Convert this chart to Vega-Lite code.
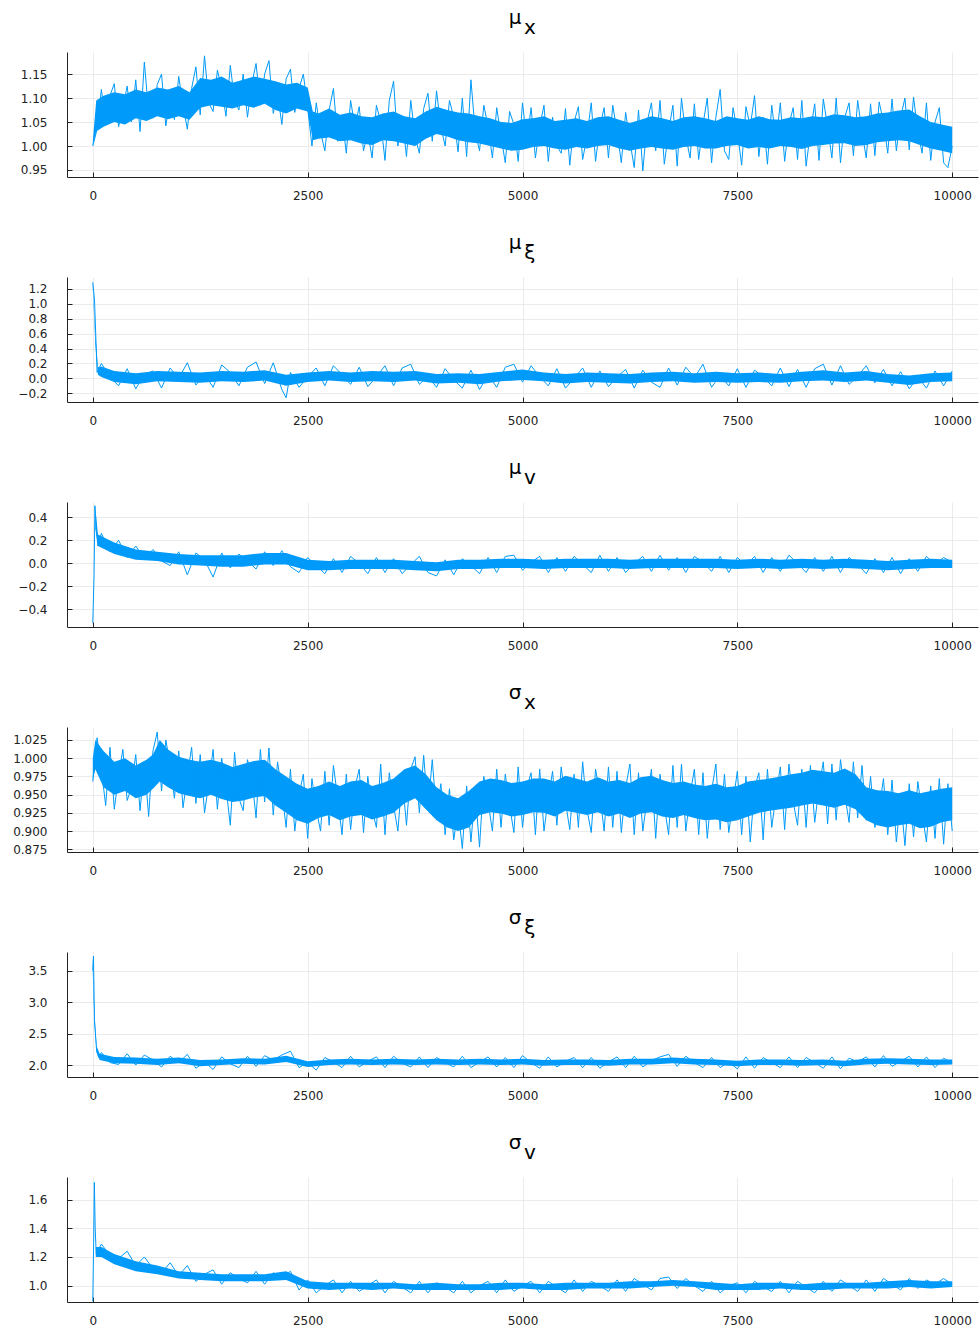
{
"$schema": "https://vega.github.io/schema/vega-lite/v6.json",
"padding": {"left": 12, "top": 8, "right": 2, "bottom": 5},
"spacing": 32,
"config": {
  "view": {"stroke": null},
  "font": "DejaVu Sans",
  "axis": {"grid": true, "gridColor": "#e6e6e6", "gridWidth": 0.8, "domainColor": "#222222", "domainWidth": 1, "tickColor": "#222222", "tickSize": -5, "tickWidth": 1, "labelFont": "DejaVu Sans", "labelFontSize": 12, "labelColor": "#222222", "title": null},
  "axisX": {"labelPadding": 18, "labelAngle": 0},
  "axisY": {"labelPadding": 25},
  "title": {"fontSize": 20, "font": "DejaVu Sans", "fontWeight": "normal", "color": "#000000", "subtitleFontSize": 20, "subtitleFont": "DejaVu Sans", "subtitleColor": "#000000", "subtitleFontWeight": "normal", "subtitlePadding": -10, "anchor": "middle", "frame": "group", "offset": 14}
},
"datasets": {
"a1": [{"t":0,"l":1.0,"h":1.01},{"t":40,"l":1.03,"h":1.095},{"t":125,"l":1.04,"h":1.105},{"t":250,"l":1.05,"h":1.112},{"t":375,"l":1.045,"h":1.108},{"t":500,"l":1.058,"h":1.118},{"t":625,"l":1.052,"h":1.112},{"t":750,"l":1.062,"h":1.122},{"t":875,"l":1.056,"h":1.118},{"t":1000,"l":1.062,"h":1.125},{"t":1125,"l":1.055,"h":1.112},{"t":1250,"l":1.08,"h":1.142},{"t":1375,"l":1.085,"h":1.138},{"t":1500,"l":1.082,"h":1.145},{"t":1625,"l":1.078,"h":1.132},{"t":1750,"l":1.085,"h":1.138},{"t":1875,"l":1.08,"h":1.145},{"t":2000,"l":1.088,"h":1.14},{"t":2125,"l":1.075,"h":1.135},{"t":2250,"l":1.068,"h":1.128},{"t":2375,"l":1.078,"h":1.132},{"t":2500,"l":1.072,"h":1.122},{"t":2560,"l":1.012,"h":1.072},{"t":2625,"l":1.015,"h":1.068},{"t":2750,"l":1.018,"h":1.078},{"t":2875,"l":1.01,"h":1.065},{"t":3000,"l":1.012,"h":1.07},{"t":3125,"l":1.005,"h":1.062},{"t":3250,"l":1.002,"h":1.06},{"t":3375,"l":1.012,"h":1.068},{"t":3500,"l":1.01,"h":1.072},{"t":3625,"l":1.005,"h":1.062},{"t":3750,"l":1.0,"h":1.058},{"t":3875,"l":1.015,"h":1.072},{"t":4000,"l":1.025,"h":1.082},{"t":4125,"l":1.02,"h":1.075},{"t":4250,"l":1.012,"h":1.07},{"t":4375,"l":1.008,"h":1.068},{"t":4500,"l":1.005,"h":1.062},{"t":4625,"l":1.0,"h":1.058},{"t":4750,"l":0.995,"h":1.05},{"t":4875,"l":0.99,"h":1.048},{"t":5000,"l":0.992,"h":1.056},{"t":5125,"l":0.998,"h":1.058},{"t":5250,"l":1.0,"h":1.062},{"t":5375,"l":0.995,"h":1.052},{"t":5500,"l":0.992,"h":1.055},{"t":5625,"l":0.998,"h":1.058},{"t":5750,"l":0.995,"h":1.052},{"t":5875,"l":1.0,"h":1.06},{"t":6000,"l":1.002,"h":1.062},{"t":6125,"l":0.995,"h":1.055},{"t":6250,"l":0.99,"h":1.048},{"t":6375,"l":0.995,"h":1.055},{"t":6500,"l":0.998,"h":1.062},{"t":6625,"l":0.995,"h":1.058},{"t":6750,"l":0.992,"h":1.052},{"t":6875,"l":0.998,"h":1.06},{"t":7000,"l":1.0,"h":1.062},{"t":7125,"l":0.995,"h":1.058},{"t":7250,"l":0.995,"h":1.052},{"t":7375,"l":1.0,"h":1.062},{"t":7500,"l":1.002,"h":1.058},{"t":7625,"l":0.995,"h":1.055},{"t":7750,"l":0.998,"h":1.062},{"t":7875,"l":0.995,"h":1.056},{"t":8000,"l":1.0,"h":1.055},{"t":8125,"l":0.998,"h":1.06},{"t":8250,"l":0.994,"h":1.058},{"t":8375,"l":1.0,"h":1.062},{"t":8500,"l":1.002,"h":1.06},{"t":8625,"l":1.005,"h":1.066},{"t":8750,"l":1.006,"h":1.064},{"t":8875,"l":1.0,"h":1.06},{"t":9000,"l":1.002,"h":1.062},{"t":9125,"l":1.008,"h":1.068},{"t":9250,"l":1.01,"h":1.07},{"t":9375,"l":1.012,"h":1.074},{"t":9500,"l":1.01,"h":1.076},{"t":9625,"l":1.002,"h":1.062},{"t":9750,"l":0.995,"h":1.05},{"t":9875,"l":0.99,"h":1.045},{"t":10000,"l":0.985,"h":1.04}],
"l1": [{"t":0,"l":1.0},{"t":50,"l":1.035},{"t":100,"l":1.118},{"t":150,"l":1.045},{"t":200,"l":1.105},{"t":250,"l":1.13},{"t":300,"l":1.04},{"t":350,"l":1.08},{"t":400,"l":1.125},{"t":450,"l":1.05},{"t":500,"l":1.138},{"t":550,"l":1.03},{"t":600,"l":1.175},{"t":650,"l":1.07},{"t":700,"l":1.058},{"t":750,"l":1.128},{"t":800,"l":1.15},{"t":850,"l":1.042},{"t":900,"l":1.1},{"t":950,"l":1.055},{"t":1000,"l":1.145},{"t":1050,"l":1.085},{"t":1100,"l":1.035},{"t":1150,"l":1.12},{"t":1200,"l":1.165},{"t":1250,"l":1.065},{"t":1300,"l":1.188},{"t":1350,"l":1.09},{"t":1400,"l":1.072},{"t":1450,"l":1.158},{"t":1500,"l":1.12},{"t":1550,"l":1.062},{"t":1600,"l":1.168},{"t":1650,"l":1.095},{"t":1700,"l":1.075},{"t":1750,"l":1.15},{"t":1800,"l":1.06},{"t":1850,"l":1.13},{"t":1900,"l":1.172},{"t":1950,"l":1.085},{"t":2000,"l":1.15},{"t":2050,"l":1.178},{"t":2100,"l":1.068},{"t":2150,"l":1.11},{"t":2200,"l":1.045},{"t":2250,"l":1.14},{"t":2300,"l":1.16},{"t":2350,"l":1.07},{"t":2400,"l":1.12},{"t":2450,"l":1.15},{"t":2500,"l":1.08},{"t":2550,"l":1.0},{"t":2600,"l":1.09},{"t":2650,"l":1.03},{"t":2700,"l":0.99},{"t":2750,"l":1.075},{"t":2800,"l":1.12},{"t":2850,"l":1.01},{"t":2900,"l":1.06},{"t":2950,"l":0.985},{"t":3000,"l":1.095},{"t":3050,"l":1.04},{"t":3100,"l":1.082},{"t":3150,"l":0.99},{"t":3200,"l":1.03},{"t":3250,"l":0.975},{"t":3300,"l":1.085},{"t":3350,"l":1.05},{"t":3400,"l":0.97},{"t":3450,"l":1.095},{"t":3500,"l":1.135},{"t":3550,"l":1.0},{"t":3600,"l":1.06},{"t":3650,"l":0.978},{"t":3700,"l":1.095},{"t":3750,"l":1.02},{"t":3800,"l":0.985},{"t":3850,"l":1.078},{"t":3900,"l":1.11},{"t":3950,"l":1.01},{"t":4000,"l":1.115},{"t":4050,"l":1.04},{"t":4100,"l":1.0},{"t":4150,"l":1.095},{"t":4200,"l":1.06},{"t":4250,"l":0.988},{"t":4300,"l":1.1},{"t":4350,"l":0.978},{"t":4400,"l":1.138},{"t":4450,"l":1.03},{"t":4500,"l":0.99},{"t":4550,"l":1.085},{"t":4600,"l":1.04},{"t":4650,"l":0.975},{"t":4700,"l":1.08},{"t":4750,"l":1.02},{"t":4800,"l":0.965},{"t":4850,"l":1.072},{"t":4900,"l":1.045},{"t":4950,"l":0.968},{"t":5000,"l":1.09},{"t":5050,"l":1.01},{"t":5100,"l":1.08},{"t":5150,"l":0.975},{"t":5200,"l":1.04},{"t":5250,"l":1.085},{"t":5300,"l":0.968},{"t":5350,"l":1.06},{"t":5400,"l":1.0},{"t":5450,"l":0.985},{"t":5500,"l":1.078},{"t":5550,"l":0.96},{"t":5600,"l":1.05},{"t":5650,"l":1.082},{"t":5700,"l":0.972},{"t":5750,"l":1.02},{"t":5800,"l":1.09},{"t":5850,"l":0.968},{"t":5900,"l":1.04},{"t":5950,"l":1.08},{"t":6000,"l":0.975},{"t":6050,"l":1.085},{"t":6100,"l":1.03},{"t":6150,"l":0.965},{"t":6200,"l":1.07},{"t":6250,"l":1.01},{"t":6300,"l":0.955},{"t":6350,"l":1.075},{"t":6400,"l":0.948},{"t":6450,"l":1.05},{"t":6500,"l":1.09},{"t":6550,"l":0.99},{"t":6600,"l":1.095},{"t":6650,"l":0.962},{"t":6700,"l":1.03},{"t":6750,"l":1.085},{"t":6800,"l":0.958},{"t":6850,"l":1.1},{"t":6900,"l":1.02},{"t":6950,"l":0.975},{"t":7000,"l":1.088},{"t":7050,"l":0.972},{"t":7100,"l":1.045},{"t":7150,"l":1.1},{"t":7200,"l":0.965},{"t":7250,"l":1.06},{"t":7300,"l":1.118},{"t":7350,"l":0.99},{"t":7400,"l":0.972},{"t":7450,"l":1.08},{"t":7500,"l":1.03},{"t":7550,"l":0.96},{"t":7600,"l":1.082},{"t":7650,"l":1.04},{"t":7700,"l":1.105},{"t":7750,"l":0.978},{"t":7800,"l":1.06},{"t":7850,"l":0.962},{"t":7900,"l":1.085},{"t":7950,"l":1.01},{"t":8000,"l":1.09},{"t":8050,"l":0.968},{"t":8100,"l":1.045},{"t":8150,"l":1.08},{"t":8200,"l":0.972},{"t":8250,"l":1.095},{"t":8300,"l":0.958},{"t":8350,"l":1.03},{"t":8400,"l":1.088},{"t":8450,"l":0.97},{"t":8500,"l":1.098},{"t":8550,"l":1.04},{"t":8600,"l":0.975},{"t":8650,"l":1.1},{"t":8700,"l":0.965},{"t":8750,"l":1.06},{"t":8800,"l":1.09},{"t":8850,"l":0.98},{"t":8900,"l":1.095},{"t":8950,"l":1.03},{"t":9000,"l":0.975},{"t":9050,"l":1.088},{"t":9100,"l":0.98},{"t":9150,"l":1.092},{"t":9200,"l":1.05},{"t":9250,"l":0.985},{"t":9300,"l":1.098},{"t":9350,"l":0.99},{"t":9400,"l":1.06},{"t":9450,"l":1.1},{"t":9500,"l":0.992},{"t":9550,"l":1.102},{"t":9600,"l":1.03},{"t":9650,"l":0.985},{"t":9700,"l":1.09},{"t":9750,"l":0.97},{"t":9800,"l":1.05},{"t":9850,"l":1.08},{"t":9900,"l":0.965},{"t":9950,"l":0.955},{"t":10000,"l":1.0}],
"a2": [{"t":0,"l":1.22,"h":1.3},{"t":30,"l":0.45,"h":0.6},{"t":60,"l":0.05,"h":0.15},{"t":100,"l":0.02,"h":0.16},{"t":250,"l":-0.05,"h":0.1},{"t":500,"l":-0.08,"h":0.07},{"t":750,"l":-0.04,"h":0.1},{"t":1000,"l":-0.05,"h":0.09},{"t":1250,"l":-0.06,"h":0.08},{"t":1500,"l":-0.04,"h":0.1},{"t":1750,"l":-0.05,"h":0.09},{"t":2000,"l":-0.03,"h":0.11},{"t":2250,"l":-0.1,"h":0.05},{"t":2500,"l":-0.05,"h":0.08},{"t":2750,"l":-0.03,"h":0.1},{"t":3000,"l":-0.05,"h":0.08},{"t":3250,"l":-0.04,"h":0.1},{"t":3500,"l":-0.05,"h":0.09},{"t":3750,"l":-0.03,"h":0.1},{"t":4000,"l":-0.07,"h":0.06},{"t":4250,"l":-0.06,"h":0.07},{"t":4500,"l":-0.08,"h":0.06},{"t":4750,"l":-0.04,"h":0.09},{"t":5000,"l":-0.02,"h":0.12},{"t":5250,"l":-0.04,"h":0.08},{"t":5500,"l":-0.07,"h":0.06},{"t":5750,"l":-0.05,"h":0.08},{"t":6000,"l":-0.06,"h":0.07},{"t":6250,"l":-0.07,"h":0.06},{"t":6500,"l":-0.05,"h":0.08},{"t":6750,"l":-0.04,"h":0.09},{"t":7000,"l":-0.06,"h":0.07},{"t":7250,"l":-0.05,"h":0.09},{"t":7500,"l":-0.06,"h":0.07},{"t":7750,"l":-0.05,"h":0.08},{"t":8000,"l":-0.06,"h":0.06},{"t":8250,"l":-0.04,"h":0.09},{"t":8500,"l":-0.03,"h":0.11},{"t":8750,"l":-0.05,"h":0.08},{"t":9000,"l":-0.03,"h":0.1},{"t":9250,"l":-0.06,"h":0.06},{"t":9500,"l":-0.09,"h":0.04},{"t":9750,"l":-0.05,"h":0.07},{"t":10000,"l":-0.04,"h":0.08}],
"l2": [{"t":0,"l":1.29},{"t":20,"l":1.05},{"t":50,"l":0.08},{"t":100,"l":0.2},{"t":200,"l":0.02},{"t":300,"l":-0.1},{"t":400,"l":0.13},{"t":500,"l":-0.14},{"t":600,"l":0.05},{"t":700,"l":0.1},{"t":800,"l":-0.13},{"t":900,"l":0.14},{"t":1000,"l":0.0},{"t":1100,"l":0.21},{"t":1200,"l":-0.09},{"t":1300,"l":0.06},{"t":1400,"l":-0.12},{"t":1500,"l":0.18},{"t":1600,"l":0.08},{"t":1700,"l":-0.1},{"t":1800,"l":0.15},{"t":1900,"l":0.22},{"t":2000,"l":-0.07},{"t":2100,"l":0.21},{"t":2200,"l":-0.15},{"t":2250,"l":-0.26},{"t":2300,"l":0.08},{"t":2400,"l":-0.12},{"t":2500,"l":0.02},{"t":2600,"l":0.14},{"t":2700,"l":-0.1},{"t":2800,"l":0.17},{"t":2900,"l":0.05},{"t":3000,"l":-0.08},{"t":3100,"l":0.15},{"t":3200,"l":-0.11},{"t":3300,"l":0.02},{"t":3400,"l":0.17},{"t":3500,"l":-0.1},{"t":3600,"l":0.14},{"t":3700,"l":0.19},{"t":3800,"l":-0.08},{"t":3900,"l":0.03},{"t":4000,"l":-0.12},{"t":4100,"l":0.13},{"t":4200,"l":-0.02},{"t":4300,"l":-0.13},{"t":4400,"l":0.11},{"t":4500,"l":-0.15},{"t":4600,"l":0.05},{"t":4700,"l":-0.12},{"t":4800,"l":0.15},{"t":4900,"l":0.19},{"t":5000,"l":-0.05},{"t":5100,"l":0.17},{"t":5200,"l":0.02},{"t":5300,"l":-0.1},{"t":5400,"l":0.13},{"t":5500,"l":-0.13},{"t":5600,"l":0.0},{"t":5700,"l":0.14},{"t":5800,"l":-0.12},{"t":5900,"l":0.1},{"t":6000,"l":-0.11},{"t":6100,"l":0.02},{"t":6200,"l":0.12},{"t":6300,"l":-0.13},{"t":6400,"l":0.11},{"t":6500,"l":-0.05},{"t":6600,"l":-0.12},{"t":6700,"l":0.14},{"t":6800,"l":-0.09},{"t":6900,"l":0.15},{"t":7000,"l":0.01},{"t":7100,"l":0.19},{"t":7200,"l":-0.12},{"t":7300,"l":0.04},{"t":7400,"l":-0.1},{"t":7500,"l":0.13},{"t":7600,"l":-0.12},{"t":7700,"l":0.11},{"t":7800,"l":0.02},{"t":7900,"l":-0.1},{"t":8000,"l":0.14},{"t":8100,"l":-0.11},{"t":8200,"l":0.12},{"t":8300,"l":-0.12},{"t":8400,"l":0.13},{"t":8500,"l":0.19},{"t":8600,"l":-0.09},{"t":8700,"l":0.17},{"t":8800,"l":-0.08},{"t":8900,"l":0.03},{"t":9000,"l":0.17},{"t":9100,"l":-0.06},{"t":9200,"l":0.12},{"t":9300,"l":-0.1},{"t":9400,"l":0.09},{"t":9500,"l":-0.14},{"t":9600,"l":0.02},{"t":9700,"l":-0.13},{"t":9800,"l":0.1},{"t":9900,"l":-0.1},{"t":10000,"l":0.1}],
"a3": [{"t":30,"l":0.3,"h":0.48},{"t":60,"l":0.15,"h":0.25},{"t":250,"l":0.08,"h":0.18},{"t":500,"l":0.03,"h":0.12},{"t":750,"l":0.02,"h":0.1},{"t":1000,"l":-0.01,"h":0.08},{"t":1250,"l":-0.02,"h":0.07},{"t":1500,"l":-0.03,"h":0.07},{"t":1750,"l":-0.03,"h":0.07},{"t":2000,"l":-0.01,"h":0.09},{"t":2250,"l":-0.01,"h":0.09},{"t":2500,"l":-0.06,"h":0.03},{"t":2750,"l":-0.06,"h":0.02},{"t":3000,"l":-0.05,"h":0.03},{"t":3250,"l":-0.05,"h":0.03},{"t":3500,"l":-0.05,"h":0.03},{"t":3750,"l":-0.06,"h":0.02},{"t":4000,"l":-0.07,"h":0.01},{"t":4250,"l":-0.05,"h":0.03},{"t":4500,"l":-0.05,"h":0.03},{"t":4750,"l":-0.04,"h":0.04},{"t":5000,"l":-0.04,"h":0.04},{"t":5250,"l":-0.05,"h":0.03},{"t":5500,"l":-0.04,"h":0.04},{"t":5750,"l":-0.04,"h":0.04},{"t":6000,"l":-0.04,"h":0.04},{"t":6250,"l":-0.05,"h":0.03},{"t":6500,"l":-0.04,"h":0.04},{"t":6750,"l":-0.04,"h":0.04},{"t":7000,"l":-0.04,"h":0.04},{"t":7250,"l":-0.04,"h":0.04},{"t":7500,"l":-0.05,"h":0.03},{"t":7750,"l":-0.04,"h":0.04},{"t":8000,"l":-0.05,"h":0.03},{"t":8250,"l":-0.04,"h":0.04},{"t":8500,"l":-0.05,"h":0.03},{"t":8750,"l":-0.04,"h":0.04},{"t":9000,"l":-0.05,"h":0.03},{"t":9250,"l":-0.06,"h":0.02},{"t":9500,"l":-0.05,"h":0.03},{"t":9750,"l":-0.04,"h":0.04},{"t":10000,"l":-0.04,"h":0.03}],
"l3": [{"t":0,"l":-0.52},{"t":15,"l":-0.1},{"t":25,"l":0.5},{"t":40,"l":0.3},{"t":60,"l":0.15},{"t":100,"l":0.26},{"t":200,"l":0.1},{"t":300,"l":0.2},{"t":400,"l":0.05},{"t":500,"l":0.15},{"t":600,"l":0.04},{"t":700,"l":0.12},{"t":800,"l":0.02},{"t":900,"l":-0.02},{"t":1000,"l":0.1},{"t":1100,"l":-0.1},{"t":1200,"l":0.09},{"t":1300,"l":0.03},{"t":1400,"l":-0.12},{"t":1500,"l":0.09},{"t":1600,"l":-0.04},{"t":1700,"l":0.08},{"t":1800,"l":0.02},{"t":1900,"l":-0.05},{"t":2000,"l":0.1},{"t":2100,"l":-0.02},{"t":2200,"l":0.11},{"t":2300,"l":-0.03},{"t":2400,"l":-0.08},{"t":2500,"l":0.05},{"t":2600,"l":-0.02},{"t":2700,"l":-0.09},{"t":2800,"l":0.04},{"t":2900,"l":-0.08},{"t":3000,"l":0.06},{"t":3100,"l":0.0},{"t":3200,"l":-0.09},{"t":3300,"l":0.05},{"t":3400,"l":-0.08},{"t":3500,"l":0.04},{"t":3600,"l":-0.09},{"t":3700,"l":-0.01},{"t":3800,"l":0.06},{"t":3900,"l":-0.08},{"t":4000,"l":-0.11},{"t":4100,"l":0.03},{"t":4200,"l":-0.1},{"t":4300,"l":0.04},{"t":4400,"l":-0.02},{"t":4500,"l":-0.09},{"t":4600,"l":0.05},{"t":4700,"l":-0.08},{"t":4800,"l":0.06},{"t":4900,"l":0.07},{"t":5000,"l":-0.06},{"t":5100,"l":0.01},{"t":5200,"l":0.06},{"t":5300,"l":-0.08},{"t":5400,"l":0.05},{"t":5500,"l":-0.07},{"t":5600,"l":0.06},{"t":5700,"l":-0.01},{"t":5800,"l":-0.08},{"t":5900,"l":0.07},{"t":6000,"l":-0.07},{"t":6100,"l":0.05},{"t":6200,"l":-0.08},{"t":6300,"l":0.0},{"t":6400,"l":0.06},{"t":6500,"l":-0.07},{"t":6600,"l":0.07},{"t":6700,"l":-0.06},{"t":6800,"l":0.05},{"t":6900,"l":-0.08},{"t":7000,"l":0.06},{"t":7100,"l":0.01},{"t":7200,"l":-0.07},{"t":7300,"l":0.06},{"t":7400,"l":-0.08},{"t":7500,"l":0.05},{"t":7600,"l":-0.02},{"t":7700,"l":0.06},{"t":7800,"l":-0.08},{"t":7900,"l":0.05},{"t":8000,"l":-0.07},{"t":8100,"l":0.07},{"t":8200,"l":0.0},{"t":8300,"l":-0.08},{"t":8400,"l":0.05},{"t":8500,"l":-0.07},{"t":8600,"l":0.06},{"t":8700,"l":-0.08},{"t":8800,"l":0.05},{"t":8900,"l":-0.01},{"t":9000,"l":-0.09},{"t":9100,"l":0.04},{"t":9200,"l":-0.08},{"t":9300,"l":0.05},{"t":9400,"l":-0.09},{"t":9500,"l":0.04},{"t":9600,"l":-0.07},{"t":9700,"l":0.06},{"t":9800,"l":-0.01},{"t":9900,"l":0.05},{"t":10000,"l":0.01}],
"a4": [{"t":0,"l":0.97,"h":1.0},{"t":30,"l":0.985,"h":1.025},{"t":125,"l":0.96,"h":1.01},{"t":250,"l":0.95,"h":0.995},{"t":375,"l":0.955,"h":1.0},{"t":500,"l":0.945,"h":0.99},{"t":625,"l":0.95,"h":0.998},{"t":700,"l":0.958,"h":1.005},{"t":780,"l":0.968,"h":1.025},{"t":875,"l":0.96,"h":1.012},{"t":1000,"l":0.952,"h":1.002},{"t":1125,"l":0.948,"h":0.998},{"t":1250,"l":0.945,"h":0.995},{"t":1375,"l":0.95,"h":0.998},{"t":1500,"l":0.944,"h":0.994},{"t":1625,"l":0.94,"h":0.988},{"t":1750,"l":0.942,"h":0.992},{"t":1875,"l":0.946,"h":0.996},{"t":2000,"l":0.948,"h":0.998},{"t":2125,"l":0.935,"h":0.985},{"t":2250,"l":0.925,"h":0.975},{"t":2375,"l":0.915,"h":0.965},{"t":2500,"l":0.91,"h":0.958},{"t":2625,"l":0.918,"h":0.962},{"t":2750,"l":0.922,"h":0.968},{"t":2875,"l":0.915,"h":0.962},{"t":3000,"l":0.92,"h":0.968},{"t":3125,"l":0.922,"h":0.97},{"t":3250,"l":0.916,"h":0.962},{"t":3375,"l":0.92,"h":0.966},{"t":3500,"l":0.925,"h":0.972},{"t":3625,"l":0.938,"h":0.985},{"t":3750,"l":0.945,"h":0.99},{"t":3875,"l":0.93,"h":0.978},{"t":4000,"l":0.915,"h":0.96},{"t":4125,"l":0.905,"h":0.95},{"t":4250,"l":0.9,"h":0.945},{"t":4375,"l":0.905,"h":0.955},{"t":4500,"l":0.922,"h":0.968},{"t":4625,"l":0.926,"h":0.972},{"t":4750,"l":0.924,"h":0.97},{"t":4875,"l":0.92,"h":0.966},{"t":5000,"l":0.922,"h":0.968},{"t":5125,"l":0.926,"h":0.972},{"t":5250,"l":0.925,"h":0.972},{"t":5375,"l":0.92,"h":0.968},{"t":5500,"l":0.928,"h":0.976},{"t":5625,"l":0.925,"h":0.972},{"t":5750,"l":0.922,"h":0.968},{"t":5875,"l":0.926,"h":0.974},{"t":6000,"l":0.92,"h":0.968},{"t":6125,"l":0.924,"h":0.97},{"t":6250,"l":0.918,"h":0.966},{"t":6375,"l":0.924,"h":0.974},{"t":6500,"l":0.926,"h":0.976},{"t":6625,"l":0.92,"h":0.97},{"t":6750,"l":0.918,"h":0.966},{"t":6875,"l":0.922,"h":0.968},{"t":7000,"l":0.918,"h":0.964},{"t":7125,"l":0.915,"h":0.962},{"t":7250,"l":0.916,"h":0.965},{"t":7375,"l":0.912,"h":0.96},{"t":7500,"l":0.915,"h":0.962},{"t":7625,"l":0.92,"h":0.968},{"t":7750,"l":0.925,"h":0.97},{"t":7875,"l":0.928,"h":0.972},{"t":8000,"l":0.93,"h":0.975},{"t":8125,"l":0.932,"h":0.978},{"t":8250,"l":0.935,"h":0.98},{"t":8375,"l":0.938,"h":0.984},{"t":8500,"l":0.935,"h":0.982},{"t":8625,"l":0.932,"h":0.98},{"t":8750,"l":0.936,"h":0.986},{"t":8875,"l":0.93,"h":0.978},{"t":9000,"l":0.915,"h":0.96},{"t":9125,"l":0.908,"h":0.956},{"t":9250,"l":0.905,"h":0.955},{"t":9375,"l":0.908,"h":0.952},{"t":9500,"l":0.91,"h":0.956},{"t":9625,"l":0.904,"h":0.952},{"t":9750,"l":0.906,"h":0.955},{"t":9875,"l":0.912,"h":0.958},{"t":10000,"l":0.915,"h":0.96}],
"l4": [{"t":0,"l":0.968},{"t":50,"l":1.028},{"t":100,"l":0.985},{"t":150,"l":0.935},{"t":200,"l":1.015},{"t":250,"l":0.93},{"t":300,"l":0.975},{"t":350,"l":1.012},{"t":400,"l":0.942},{"t":450,"l":0.96},{"t":500,"l":1.005},{"t":550,"l":0.928},{"t":600,"l":0.995},{"t":650,"l":0.92},{"t":700,"l":1.01},{"t":750,"l":1.036},{"t":800,"l":0.955},{"t":850,"l":1.025},{"t":900,"l":0.99},{"t":950,"l":0.945},{"t":1000,"l":1.01},{"t":1050,"l":0.932},{"t":1100,"l":0.975},{"t":1150,"l":1.015},{"t":1200,"l":0.938},{"t":1250,"l":1.005},{"t":1300,"l":0.925},{"t":1350,"l":0.965},{"t":1400,"l":1.012},{"t":1450,"l":0.93},{"t":1500,"l":1.0},{"t":1550,"l":0.96},{"t":1600,"l":0.908},{"t":1650,"l":1.008},{"t":1700,"l":0.945},{"t":1750,"l":0.928},{"t":1800,"l":0.998},{"t":1850,"l":0.975},{"t":1900,"l":0.918},{"t":1950,"l":1.012},{"t":2000,"l":0.94},{"t":2050,"l":1.014},{"t":2100,"l":0.922},{"t":2150,"l":0.995},{"t":2200,"l":0.955},{"t":2250,"l":0.905},{"t":2300,"l":0.985},{"t":2350,"l":0.9},{"t":2400,"l":0.95},{"t":2450,"l":0.978},{"t":2500,"l":0.89},{"t":2550,"l":0.972},{"t":2600,"l":0.93},{"t":2650,"l":0.9},{"t":2700,"l":0.982},{"t":2750,"l":0.908},{"t":2800,"l":0.99},{"t":2850,"l":0.945},{"t":2900,"l":0.895},{"t":2950,"l":0.978},{"t":3000,"l":0.902},{"t":3050,"l":0.96},{"t":3100,"l":0.985},{"t":3150,"l":0.898},{"t":3200,"l":0.975},{"t":3250,"l":0.93},{"t":3300,"l":0.905},{"t":3350,"l":0.992},{"t":3400,"l":0.895},{"t":3450,"l":0.98},{"t":3500,"l":0.935},{"t":3550,"l":0.9},{"t":3600,"l":0.975},{"t":3650,"l":0.908},{"t":3700,"l":0.985},{"t":3750,"l":1.002},{"t":3800,"l":0.925},{"t":3850,"l":1.004},{"t":3900,"l":0.93},{"t":3950,"l":0.998},{"t":4000,"l":0.922},{"t":4050,"l":0.965},{"t":4100,"l":0.895},{"t":4150,"l":0.958},{"t":4200,"l":0.888},{"t":4250,"l":0.93},{"t":4300,"l":0.876},{"t":4350,"l":0.962},{"t":4400,"l":0.885},{"t":4450,"l":0.955},{"t":4500,"l":0.878},{"t":4550,"l":0.975},{"t":4600,"l":0.94},{"t":4650,"l":0.9},{"t":4700,"l":0.985},{"t":4750,"l":0.905},{"t":4800,"l":0.978},{"t":4850,"l":0.935},{"t":4900,"l":0.898},{"t":4950,"l":0.988},{"t":5000,"l":0.905},{"t":5050,"l":0.96},{"t":5100,"l":0.98},{"t":5150,"l":0.895},{"t":5200,"l":0.985},{"t":5250,"l":0.9},{"t":5300,"l":0.945},{"t":5350,"l":0.982},{"t":5400,"l":0.908},{"t":5450,"l":0.988},{"t":5500,"l":0.94},{"t":5550,"l":0.902},{"t":5600,"l":0.978},{"t":5650,"l":0.905},{"t":5700,"l":0.995},{"t":5750,"l":0.93},{"t":5800,"l":0.898},{"t":5850,"l":0.985},{"t":5900,"l":0.95},{"t":5950,"l":0.9},{"t":6000,"l":0.988},{"t":6050,"l":0.905},{"t":6100,"l":0.982},{"t":6150,"l":0.898},{"t":6200,"l":0.96},{"t":6250,"l":0.992},{"t":6300,"l":0.895},{"t":6350,"l":0.98},{"t":6400,"l":0.9},{"t":6450,"l":0.945},{"t":6500,"l":0.985},{"t":6550,"l":0.89},{"t":6600,"l":0.978},{"t":6650,"l":0.935},{"t":6700,"l":0.895},{"t":6750,"l":0.99},{"t":6800,"l":0.905},{"t":6850,"l":0.992},{"t":6900,"l":0.9},{"t":6950,"l":0.95},{"t":7000,"l":0.985},{"t":7050,"l":0.895},{"t":7100,"l":0.98},{"t":7150,"l":0.89},{"t":7200,"l":0.955},{"t":7250,"l":0.992},{"t":7300,"l":0.902},{"t":7350,"l":0.978},{"t":7400,"l":0.898},{"t":7450,"l":0.94},{"t":7500,"l":0.982},{"t":7550,"l":0.895},{"t":7600,"l":0.975},{"t":7650,"l":0.885},{"t":7700,"l":0.96},{"t":7750,"l":0.98},{"t":7800,"l":0.888},{"t":7850,"l":0.985},{"t":7900,"l":0.905},{"t":7950,"l":0.95},{"t":8000,"l":0.988},{"t":8050,"l":0.902},{"t":8100,"l":0.992},{"t":8150,"l":0.94},{"t":8200,"l":0.908},{"t":8250,"l":0.985},{"t":8300,"l":0.905},{"t":8350,"l":0.99},{"t":8400,"l":0.912},{"t":8450,"l":0.96},{"t":8500,"l":0.995},{"t":8550,"l":0.91},{"t":8600,"l":0.992},{"t":8650,"l":0.915},{"t":8700,"l":0.998},{"t":8750,"l":0.95},{"t":8800,"l":0.912},{"t":8850,"l":0.995},{"t":8900,"l":0.918},{"t":8950,"l":0.99},{"t":9000,"l":0.915},{"t":9050,"l":0.975},{"t":9100,"l":0.905},{"t":9150,"l":0.93},{"t":9200,"l":0.972},{"t":9250,"l":0.895},{"t":9300,"l":0.97},{"t":9350,"l":0.885},{"t":9400,"l":0.945},{"t":9450,"l":0.88},{"t":9500,"l":0.965},{"t":9550,"l":0.892},{"t":9600,"l":0.968},{"t":9650,"l":0.925},{"t":9700,"l":0.885},{"t":9750,"l":0.962},{"t":9800,"l":0.89},{"t":9850,"l":0.972},{"t":9900,"l":0.882},{"t":9950,"l":0.965},{"t":10000,"l":0.9}],
"a5": [{"t":0,"l":3.45,"h":3.72},{"t":20,"l":2.65,"h":2.8},{"t":45,"l":2.2,"h":2.3},{"t":80,"l":2.08,"h":2.18},{"t":250,"l":2.03,"h":2.13},{"t":500,"l":2.02,"h":2.12},{"t":750,"l":2.0,"h":2.1},{"t":1000,"l":2.03,"h":2.12},{"t":1250,"l":1.98,"h":2.08},{"t":1500,"l":2.0,"h":2.09},{"t":1750,"l":2.02,"h":2.11},{"t":2000,"l":2.01,"h":2.1},{"t":2250,"l":2.05,"h":2.15},{"t":2500,"l":1.97,"h":2.06},{"t":2750,"l":2.0,"h":2.09},{"t":3000,"l":2.01,"h":2.1},{"t":3250,"l":2.0,"h":2.09},{"t":3500,"l":2.01,"h":2.1},{"t":3750,"l":2.0,"h":2.09},{"t":4000,"l":2.01,"h":2.1},{"t":4250,"l":2.0,"h":2.09},{"t":4500,"l":2.01,"h":2.1},{"t":4750,"l":2.0,"h":2.09},{"t":5000,"l":2.01,"h":2.1},{"t":5250,"l":1.99,"h":2.08},{"t":5500,"l":2.0,"h":2.09},{"t":5750,"l":2.0,"h":2.09},{"t":6000,"l":1.99,"h":2.08},{"t":6250,"l":2.01,"h":2.1},{"t":6500,"l":2.01,"h":2.1},{"t":6750,"l":2.03,"h":2.12},{"t":7000,"l":2.01,"h":2.1},{"t":7250,"l":2.0,"h":2.09},{"t":7500,"l":1.98,"h":2.07},{"t":7750,"l":2.0,"h":2.09},{"t":8000,"l":2.0,"h":2.09},{"t":8250,"l":1.99,"h":2.08},{"t":8500,"l":2.0,"h":2.09},{"t":8750,"l":1.98,"h":2.07},{"t":9000,"l":2.01,"h":2.1},{"t":9250,"l":2.02,"h":2.11},{"t":9500,"l":2.01,"h":2.1},{"t":9750,"l":2.0,"h":2.09},{"t":10000,"l":2.01,"h":2.09}],
"l5": [{"t":0,"l":3.5},{"t":8,"l":3.73},{"t":20,"l":2.7},{"t":45,"l":2.22},{"t":70,"l":2.12},{"t":100,"l":2.2},{"t":200,"l":2.04},{"t":300,"l":2.01},{"t":400,"l":2.18},{"t":500,"l":2.0},{"t":600,"l":2.16},{"t":700,"l":2.08},{"t":800,"l":1.97},{"t":900,"l":2.14},{"t":1000,"l":2.04},{"t":1100,"l":2.17},{"t":1200,"l":1.95},{"t":1300,"l":2.05},{"t":1400,"l":1.93},{"t":1500,"l":2.13},{"t":1600,"l":2.02},{"t":1700,"l":1.96},{"t":1800,"l":2.14},{"t":1900,"l":1.98},{"t":2000,"l":2.15},{"t":2100,"l":2.08},{"t":2200,"l":2.16},{"t":2300,"l":2.22},{"t":2400,"l":1.96},{"t":2500,"l":2.04},{"t":2600,"l":1.92},{"t":2700,"l":2.12},{"t":2800,"l":2.05},{"t":2900,"l":1.96},{"t":3000,"l":2.14},{"t":3100,"l":1.97},{"t":3200,"l":2.06},{"t":3300,"l":2.13},{"t":3400,"l":1.96},{"t":3500,"l":2.14},{"t":3600,"l":2.03},{"t":3700,"l":1.97},{"t":3800,"l":2.13},{"t":3900,"l":1.96},{"t":4000,"l":2.12},{"t":4100,"l":2.04},{"t":4200,"l":1.97},{"t":4300,"l":2.14},{"t":4400,"l":1.96},{"t":4500,"l":2.05},{"t":4600,"l":2.13},{"t":4700,"l":1.97},{"t":4800,"l":2.12},{"t":4900,"l":1.96},{"t":5000,"l":2.15},{"t":5100,"l":2.04},{"t":5200,"l":1.95},{"t":5300,"l":2.13},{"t":5400,"l":1.97},{"t":5500,"l":2.06},{"t":5600,"l":2.12},{"t":5700,"l":1.96},{"t":5800,"l":2.12},{"t":5900,"l":1.95},{"t":6000,"l":2.05},{"t":6100,"l":2.13},{"t":6200,"l":1.96},{"t":6300,"l":2.14},{"t":6400,"l":1.97},{"t":6500,"l":2.07},{"t":6600,"l":2.13},{"t":6700,"l":2.17},{"t":6800,"l":1.98},{"t":6900,"l":2.14},{"t":7000,"l":2.04},{"t":7100,"l":1.96},{"t":7200,"l":2.12},{"t":7300,"l":1.96},{"t":7400,"l":2.05},{"t":7500,"l":1.94},{"t":7600,"l":2.13},{"t":7700,"l":1.95},{"t":7800,"l":2.12},{"t":7900,"l":2.04},{"t":8000,"l":1.96},{"t":8100,"l":2.13},{"t":8200,"l":1.96},{"t":8300,"l":2.12},{"t":8400,"l":2.04},{"t":8500,"l":1.95},{"t":8600,"l":2.13},{"t":8700,"l":1.94},{"t":8800,"l":2.11},{"t":8900,"l":2.05},{"t":9000,"l":2.13},{"t":9100,"l":1.97},{"t":9200,"l":2.15},{"t":9300,"l":1.98},{"t":9400,"l":2.06},{"t":9500,"l":2.14},{"t":9600,"l":1.97},{"t":9700,"l":2.13},{"t":9800,"l":1.96},{"t":9900,"l":2.11},{"t":10000,"l":2.03}],
"a6": [{"t":35,"l":1.2,"h":1.27},{"t":100,"l":1.2,"h":1.27},{"t":250,"l":1.15,"h":1.22},{"t":500,"l":1.1,"h":1.17},{"t":750,"l":1.08,"h":1.14},{"t":1000,"l":1.05,"h":1.1},{"t":1250,"l":1.04,"h":1.09},{"t":1500,"l":1.03,"h":1.08},{"t":1750,"l":1.03,"h":1.08},{"t":2000,"l":1.03,"h":1.08},{"t":2250,"l":1.04,"h":1.1},{"t":2500,"l":0.98,"h":1.03},{"t":2750,"l":0.97,"h":1.02},{"t":3000,"l":0.98,"h":1.02},{"t":3250,"l":0.97,"h":1.02},{"t":3500,"l":0.98,"h":1.02},{"t":3750,"l":0.97,"h":1.01},{"t":4000,"l":0.97,"h":1.02},{"t":4250,"l":0.97,"h":1.01},{"t":4500,"l":0.97,"h":1.01},{"t":4750,"l":0.97,"h":1.02},{"t":5000,"l":0.98,"h":1.02},{"t":5250,"l":0.97,"h":1.01},{"t":5500,"l":0.97,"h":1.02},{"t":5750,"l":0.98,"h":1.02},{"t":6000,"l":0.98,"h":1.02},{"t":6250,"l":0.98,"h":1.03},{"t":6500,"l":0.99,"h":1.03},{"t":6750,"l":1.0,"h":1.04},{"t":7000,"l":0.99,"h":1.03},{"t":7250,"l":0.97,"h":1.02},{"t":7500,"l":0.97,"h":1.01},{"t":7750,"l":0.97,"h":1.02},{"t":8000,"l":0.98,"h":1.02},{"t":8250,"l":0.97,"h":1.01},{"t":8500,"l":0.97,"h":1.02},{"t":8750,"l":0.98,"h":1.02},{"t":9000,"l":0.98,"h":1.02},{"t":9250,"l":0.98,"h":1.03},{"t":9500,"l":0.99,"h":1.04},{"t":9750,"l":0.98,"h":1.03},{"t":10000,"l":0.99,"h":1.03}],
"l6": [{"t":0,"l":0.89},{"t":10,"l":1.3},{"t":18,"l":1.72},{"t":28,"l":1.4},{"t":40,"l":1.22},{"t":100,"l":1.29},{"t":200,"l":1.21},{"t":300,"l":1.19},{"t":400,"l":1.24},{"t":500,"l":1.14},{"t":600,"l":1.2},{"t":700,"l":1.12},{"t":800,"l":1.09},{"t":900,"l":1.16},{"t":1000,"l":1.07},{"t":1100,"l":1.14},{"t":1200,"l":1.03},{"t":1300,"l":1.08},{"t":1400,"l":1.11},{"t":1500,"l":1.01},{"t":1600,"l":1.09},{"t":1700,"l":1.05},{"t":1800,"l":1.02},{"t":1900,"l":1.1},{"t":2000,"l":1.01},{"t":2100,"l":1.09},{"t":2200,"l":1.06},{"t":2300,"l":1.1},{"t":2400,"l":0.97},{"t":2500,"l":1.04},{"t":2600,"l":0.95},{"t":2700,"l":1.0},{"t":2800,"l":1.04},{"t":2900,"l":0.95},{"t":3000,"l":1.03},{"t":3100,"l":0.96},{"t":3200,"l":1.0},{"t":3300,"l":1.04},{"t":3400,"l":0.95},{"t":3500,"l":1.03},{"t":3600,"l":0.99},{"t":3700,"l":0.95},{"t":3800,"l":1.03},{"t":3900,"l":0.95},{"t":4000,"l":1.02},{"t":4100,"l":0.99},{"t":4200,"l":0.95},{"t":4300,"l":1.03},{"t":4400,"l":0.95},{"t":4500,"l":1.0},{"t":4600,"l":1.03},{"t":4700,"l":0.95},{"t":4800,"l":1.04},{"t":4900,"l":0.96},{"t":5000,"l":1.0},{"t":5100,"l":1.03},{"t":5200,"l":0.95},{"t":5300,"l":1.03},{"t":5400,"l":0.99},{"t":5500,"l":0.95},{"t":5600,"l":1.04},{"t":5700,"l":0.96},{"t":5800,"l":1.03},{"t":5900,"l":1.0},{"t":6000,"l":0.96},{"t":6100,"l":1.04},{"t":6200,"l":0.96},{"t":6300,"l":1.05},{"t":6400,"l":1.01},{"t":6500,"l":0.97},{"t":6600,"l":1.05},{"t":6700,"l":1.06},{"t":6800,"l":0.98},{"t":6900,"l":1.05},{"t":7000,"l":1.0},{"t":7100,"l":0.96},{"t":7200,"l":1.03},{"t":7300,"l":0.95},{"t":7400,"l":1.0},{"t":7500,"l":1.02},{"t":7600,"l":0.95},{"t":7700,"l":1.03},{"t":7800,"l":0.99},{"t":7900,"l":0.96},{"t":8000,"l":1.03},{"t":8100,"l":0.95},{"t":8200,"l":1.03},{"t":8300,"l":0.99},{"t":8400,"l":0.95},{"t":8500,"l":1.03},{"t":8600,"l":0.96},{"t":8700,"l":1.04},{"t":8800,"l":1.0},{"t":8900,"l":0.96},{"t":9000,"l":1.04},{"t":9100,"l":0.96},{"t":9200,"l":1.05},{"t":9300,"l":1.01},{"t":9400,"l":0.97},{"t":9500,"l":1.05},{"t":9600,"l":0.98},{"t":9700,"l":1.04},{"t":9800,"l":1.01},{"t":9900,"l":1.05},{"t":10000,"l":1.01}]
},
"vconcat": [
{"title": {"text": "μ\u2800", "subtitle": "\u2800x"}, "width": 911, "height": 125,
 "encoding": {"x": {"field": "t", "type": "quantitative", "scale": {"domain": [-300, 10300], "nice": false}, "axis": {"values": [0, 2500, 5000, 7500, 10000], "format": "d"}},
  "y": {"field": "l", "type": "quantitative", "scale": {"domain": [0.9354, 1.196], "nice": false, "zero": false}, "axis": {"values": [0.95, 1.0, 1.05, 1.1, 1.15], "format": ".2f"}}},
 "layer": [{"data": {"name": "a1"}, "mark": {"type": "area", "color": "#009AFA"}, "encoding": {"y2": {"field": "h"}}},
           {"data": {"name": "l1"}, "mark": {"type": "line", "color": "#009AFA", "strokeWidth": 1}}]},
{"title": {"text": "μ\u2800", "subtitle": "\u2800ξ"}, "width": 911, "height": 125,
 "encoding": {"x": {"field": "t", "type": "quantitative", "scale": {"domain": [-300, 10300], "nice": false}, "axis": {"values": [0, 2500, 5000, 7500, 10000], "format": "d"}},
  "y": {"field": "l", "type": "quantitative", "scale": {"domain": [-0.317, 1.361], "nice": false, "zero": false}, "axis": {"values": [-0.2, 0, 0.2, 0.4, 0.6, 0.8, 1.0, 1.2], "format": ".1f"}}},
 "layer": [{"data": {"name": "a2"}, "mark": {"type": "area", "color": "#009AFA"}, "encoding": {"y2": {"field": "h"}}},
           {"data": {"name": "l2"}, "mark": {"type": "line", "color": "#009AFA", "strokeWidth": 1}}]},
{"title": {"text": "μ\u2800", "subtitle": "\u2800v"}, "width": 911, "height": 125,
 "encoding": {"x": {"field": "t", "type": "quantitative", "scale": {"domain": [-300, 10300], "nice": false}, "axis": {"values": [0, 2500, 5000, 7500, 10000], "format": "d"}},
  "y": {"field": "l", "type": "quantitative", "scale": {"domain": [-0.554, 0.533], "nice": false, "zero": false}, "axis": {"values": [-0.4, -0.2, 0, 0.2, 0.4], "format": ".1f"}}},
 "layer": [{"data": {"name": "a3"}, "mark": {"type": "area", "color": "#009AFA"}, "encoding": {"y2": {"field": "h"}}},
           {"data": {"name": "l3"}, "mark": {"type": "line", "color": "#009AFA", "strokeWidth": 1}}]},
{"title": {"text": "σ\u2800", "subtitle": "\u2800x"}, "width": 911, "height": 125,
 "encoding": {"x": {"field": "t", "type": "quantitative", "scale": {"domain": [-300, 10300], "nice": false}, "axis": {"values": [0, 2500, 5000, 7500, 10000], "format": "d"}},
  "y": {"field": "l", "type": "quantitative", "scale": {"domain": [0.8713, 1.0428], "nice": false, "zero": false}, "axis": {"values": [0.875, 0.9, 0.925, 0.95, 0.975, 1.0, 1.025], "format": ".3f"}}},
 "layer": [{"data": {"name": "a4"}, "mark": {"type": "area", "color": "#009AFA"}, "encoding": {"y2": {"field": "h"}}},
           {"data": {"name": "l4"}, "mark": {"type": "line", "color": "#009AFA", "strokeWidth": 1}}]},
{"title": {"text": "σ\u2800", "subtitle": "\u2800ξ"}, "width": 911, "height": 125,
 "encoding": {"x": {"field": "t", "type": "quantitative", "scale": {"domain": [-300, 10300], "nice": false}, "axis": {"values": [0, 2500, 5000, 7500, 10000], "format": "d"}},
  "y": {"field": "l", "type": "quantitative", "scale": {"domain": [1.811, 3.794], "nice": false, "zero": false}, "axis": {"values": [2.0, 2.5, 3.0, 3.5], "format": ".1f"}}},
 "layer": [{"data": {"name": "a5"}, "mark": {"type": "area", "color": "#009AFA"}, "encoding": {"y2": {"field": "h"}}},
           {"data": {"name": "l5"}, "mark": {"type": "line", "color": "#009AFA", "strokeWidth": 1}}]},
{"title": {"text": "σ\u2800", "subtitle": "\u2800v"}, "width": 911, "height": 125,
 "encoding": {"x": {"field": "t", "type": "quantitative", "scale": {"domain": [-300, 10300], "nice": false}, "axis": {"values": [0, 2500, 5000, 7500, 10000], "format": "d"}},
  "y": {"field": "l", "type": "quantitative", "scale": {"domain": [0.886, 1.758], "nice": false, "zero": false}, "axis": {"values": [1.0, 1.2, 1.4, 1.6], "format": ".1f"}}},
 "layer": [{"data": {"name": "a6"}, "mark": {"type": "area", "color": "#009AFA"}, "encoding": {"y2": {"field": "h"}}},
           {"data": {"name": "l6"}, "mark": {"type": "line", "color": "#009AFA", "strokeWidth": 1}}]}
]
}
